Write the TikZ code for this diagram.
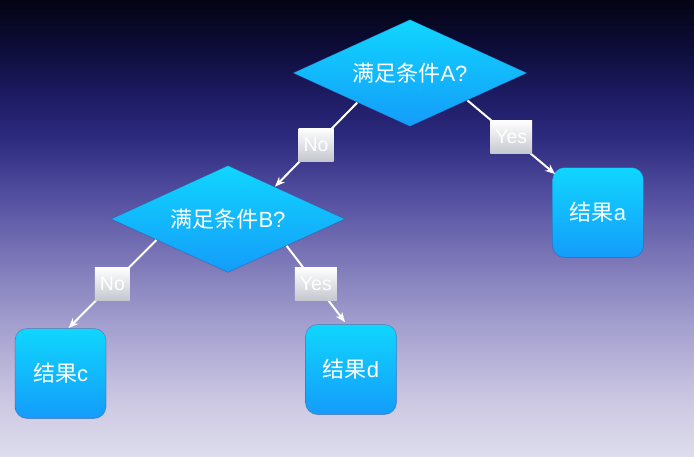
\documentclass[tikz,border=0pt]{standalone}
\usepackage{fontspec}
\setmainfont{Liberation Sans}
\newfontfamily\cjk{Noto Sans CJK SC}
\usepackage{xcolor}
\usepackage{tikz}
\usetikzlibrary{calc}
\usetikzlibrary{arrows.meta}
\usetikzlibrary{shapes.geometric}

\definecolor{skyA}{RGB}{222,220,238}
\definecolor{skyB}{RGB}{204,200,226}
\definecolor{skyC}{RGB}{160,156,205}
\definecolor{skyD}{RGB}{118,114,180}
\definecolor{skyE}{RGB}{80,76,158}
\definecolor{skyF}{RGB}{44,42,125}
\definecolor{skyG}{RGB}{28,26,95}
\definecolor{skyH}{RGB}{12,12,55}
\definecolor{skyI}{RGB}{4,4,20}
\definecolor{cyantop}{RGB}{16,214,254}
\definecolor{cyanbot}{RGB}{20,156,250}
\definecolor{rim}{RGB}{60,50,130}
\definecolor{tabgray}{RGB}{196,199,207}

\pgfdeclareverticalshading{sky}{100bp}{color(0bp)=(skyA); color(25bp)=(skyA); color(31bp)=(skyB); color(40bp)=(skyC); color(47.5bp)=(skyD); color(54bp)=(skyE); color(60bp)=(skyF); color(65bp)=(skyG); color(70bp)=(skyH); color(75bp)=(skyI); color(100bp)=(skyI)}

\tikzset{
	cond/.style={diamond, aspect=2.19, minimum width=234pt, minimum height=107pt, inner sep=0pt,
		top color=cyantop, bottom color=cyanbot, draw=rim, draw opacity=0.3, line width=0.8pt,
		text=white, font=\fontsize{22}{26}\selectfont},
	result/.style={rectangle, rounded corners=12pt, minimum width=91pt, minimum height=90pt,
		top color=cyantop, bottom color=cyanbot, draw=rim, draw opacity=0.3, line width=0.8pt,
		text=white, font=\fontsize{22}{26}\selectfont},
	yn/.style={rectangle, top color=white, bottom color=tabgray, inner xsep=5pt, inner ysep=0pt,
		minimum height=33pt, text=white, font=\fontsize{19.5}{22}\selectfont},
	edge/.style={white, line width=2pt, -{Stealth[length=10pt,width=8pt]}}
}

\begin{document}
\begin{tikzpicture}[x=1pt,y=-1pt]
	\shade[shading=sky] (0,0) rectangle (694,456);
	\node[cond] (A) at (410,73) {{\cjk 满足条件}A?};
	\node[cond] (B) at (228,219) {{\cjk 满足条件}B?};
	\node[result] (a) at (598,212.5) {{\cjk 结果}a};
	\node[result] (c) at (60.5,373.5) {{\cjk 结果}c};
	\node[result] (d) at (351,369.5) {{\cjk 结果}d};
	\draw[edge] ($(A.west)!0.55!(A.south)$) -- node[yn] (noA) {No} ($(B.north)!0.4!(B.east)$);
	\draw[edge] ($(A.south)!0.49!(A.east)$) -- node[yn] (yesA) {Yes} ($(a.north west)+(3,7)$);
	\draw[edge] ($(B.west)!0.39!(B.south)$) -- node[yn] (noB) {No} ($(c.north)+(8,0)$);
	\draw[edge] ($(B.south)!0.5!(B.east)$) -- node[yn] (yesB) {Yes} ($(d.north)+(-6,-2)$);
\end{tikzpicture}
\end{document}
